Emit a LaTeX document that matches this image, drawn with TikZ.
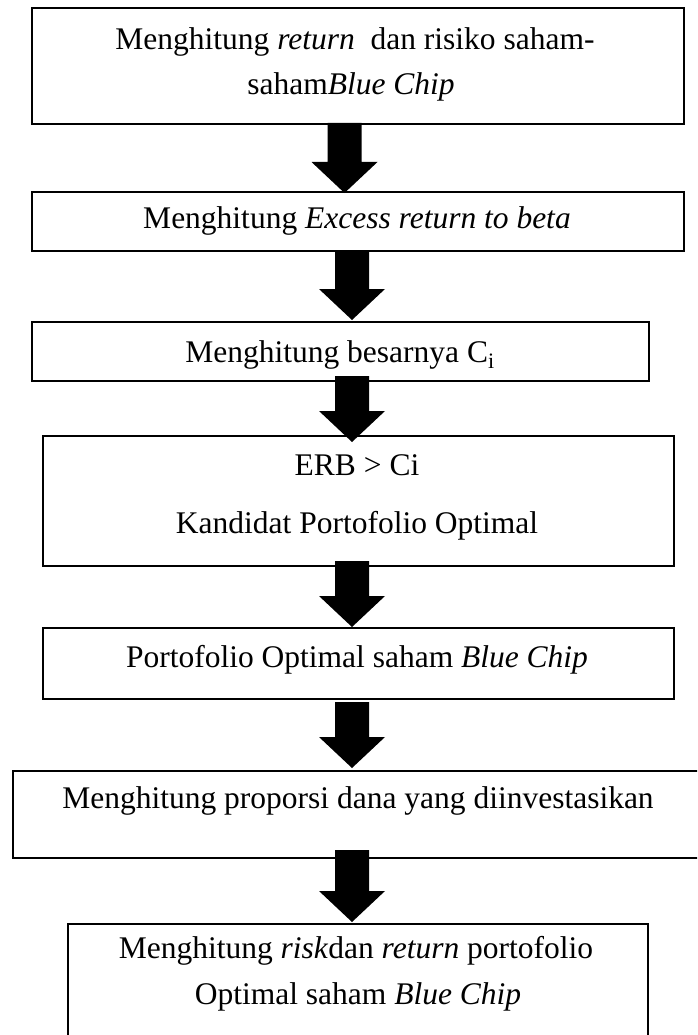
\documentclass[tikz,border=0pt]{standalone}
\usepackage{fontspec}
\setmainfont{Liberation Serif}
\usetikzlibrary{calc}
\newcommand{\blockarrow}[2]{%
  \fill (#1) ++(-17,0) -- ($(#2)+(-17,-31)$) -- ($(#2)+(-33,-31)$) -- (#2)
    -- ($(#2)+(33,-31)$) -- ($(#2)+(17,-31)$) -- ($(#1)+(17,0)$) -- cycle;}
\begin{document}
\begin{tikzpicture}[x=1pt,y=-1pt,
  box/.style={draw, line width=2pt, rectangle, anchor=north west, inner sep=0pt},
  lbl/.style={anchor=base, inner sep=0pt, font=\fontsize{31.5}{38}\selectfont}]
\useasboundingbox (0,0) rectangle (697,1035);
\clip (0,0) rectangle (697,1035);
% boxes
\node[box, minimum width=652pt, minimum height=116pt] (b1) at (31,7) {};
\node[box, minimum width=652pt, minimum height=59pt] (b2) at (31,191) {};
\node[box, minimum width=617pt, minimum height=59pt] (b3) at (31,321) {};
\node[box, minimum width=631pt, minimum height=130pt] (b4) at (42,435) {};
\node[box, minimum width=631pt, minimum height=71pt] (b5) at (42,627) {};
\node[box, minimum width=700pt, minimum height=87pt] (b6) at (12,770) {};
\node[box, minimum width=580pt, minimum height=140pt] (b7) at (67,923) {};
% texts
\node[lbl] (t1a) at (355,50) {Menghitung \textit{return}~ dan risiko saham-};
\node[lbl] (t1b) at (351,95) {saham\textit{Blue Chip}};
\node[lbl] (t2) at (357,228) {Menghitung \textit{Excess return to beta}};
\node[lbl] (t3) at (340,362) {Menghitung besarnya C\textsubscript{i}};
\node[lbl] (t4a) at (357,475) {ERB > Ci};
\node[lbl] (t4b) at (357,533) {Kandidat Portofolio Optimal};
\node[lbl] (t5) at (357,667) {Portofolio Optimal saham \textit{Blue Chip}};
\node[lbl] (t6) at (358,808) {Menghitung proporsi dana yang diinvestasikan};
\node[lbl] (t7a) at (356,958) {Menghitung \textit{risk}dan \textit{return} portofolio};
\node[lbl] (t7b) at (358,1004) {Optimal saham \textit{Blue Chip}};
% arrows
\coordinate (a1s) at ($(b1.south)+(-13.5,-2)$);
\coordinate (a1e) at ($(a1s |- b2.north)+(0,2)$);
\coordinate (a2s) at ($(b2.south)+(-6,-2)$);
\coordinate (a2e) at ($(a2s |- b3.north)+(0,-1)$);
\coordinate (a3s) at ($(b3.south)+(11.5,-6)$);
\coordinate (a3e) at ($(a3s |- b4.north)+(0,7)$);
\coordinate (a4s) at ($(b4.south)+(-6.5,-6)$);
\coordinate (a4e) at (a4s |- b5.north);
\coordinate (a5s) at ($(b5.south)+(-6.5,2)$);
\coordinate (a5e) at ($(a5s |- b6.north)+(0,-2)$);
\coordinate (a6s) at ($(b6.south)+(-11,-9)$);
\coordinate (a6e) at ($(a6s |- b7.north)+(0,-1)$);
\blockarrow{a1s}{a1e}
\blockarrow{a2s}{a2e}
\blockarrow{a3s}{a3e}
\blockarrow{a4s}{a4e}
\blockarrow{a5s}{a5e}
\blockarrow{a6s}{a6e}
\end{tikzpicture}
\end{document}
